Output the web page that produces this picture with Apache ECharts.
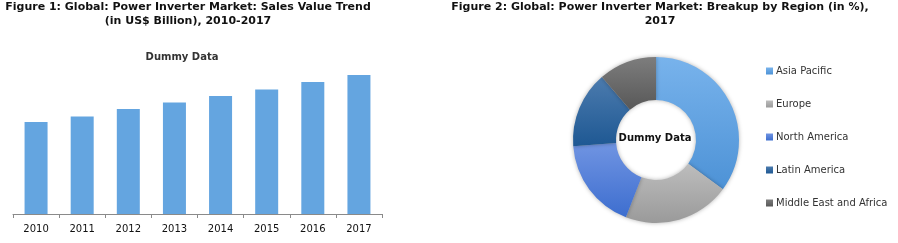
<!DOCTYPE html>
<html>
<head>
<meta charset="utf-8">
<script src="https://cdn.jsdelivr.net/npm/echarts@6/dist/echarts.min.js"></script>
<style>html,body{margin:0;padding:0;background:#fff}#c{width:898px;height:243px}</style>
</head>
<body>
<div id="c"></div>
<script>
const years = ['2010','2011','2012','2013','2014','2015','2016','2017'];
const salesValues = [6.61, 7.02, 7.55, 8.02, 8.49, 8.96, 9.50, 10.0];
const regions = ['Asia Pacific','Europe','North America','Latin America','Middle East and Africa'];
const regionShares = [35.1, 20.8, 17.9, 14.9, 11.3];
const regionColors = [
  ['#78B3EC','#4D92D6'],
  ['#BDBDBD','#9A9A9A'],
  ['#7094E2','#3D6ECF'],
  ['#4C7BAE','#1E5893'],
  ['#7D7D7D','#585858']
];

const FONT = 'DejaVu Sans';
const chart = echarts.init(document.getElementById('c'), null, {renderer:'canvas'});

function grad(c){
  return new echarts.graphic.LinearGradient(0,0,0,1,[{offset:0,color:c[0]},{offset:1,color:c[1]}]);
}

chart.setOption({
  animation:false,
  title:[
    {text:'Figure 1: Global: Power Inverter Market: Sales Value Trend\n(in US$ Billion), 2010-2017',
     left:188, top:0, textAlign:'center', padding:0,
     textStyle:{fontFamily:FONT, fontWeight:'bold', fontSize:11, lineHeight:14, color:'#111'}},
    {text:'Figure 2: Global: Power Inverter Market: Breakup by Region (in %),\n2017',
     left:660, top:0, textAlign:'center', padding:0,
     textStyle:{fontFamily:FONT, fontWeight:'bold', fontSize:11, lineHeight:14, color:'#111'}},
    {text:'Dummy Data', left:182, top:51, textAlign:'center', padding:0,
     textStyle:{fontFamily:FONT, fontWeight:'bold', fontSize:10, lineHeight:12, color:'#333'}},
    {text:'Dummy Data', left:655, top:132, textAlign:'center', padding:0,
     textStyle:{fontFamily:FONT, fontWeight:'bold', fontSize:10, lineHeight:12, color:'#111'}}
  ],
  legend:{
    orient:'vertical', left:766, top:65, padding:0, itemWidth:7, itemHeight:7, itemGap:21, icon:'rect',
    data:regions,
    textStyle:{fontFamily:FONT, fontSize:10, lineHeight:12, color:'#333', padding:[0,0,0,-2]}
  },
  grid:{left:13, right:516, top:75, bottom:29},
  xAxis:{
    type:'category', data:years,
    axisLine:{lineStyle:{color:'#8a8a8a', width:1}},
    axisTick:{show:true, length:4, lineStyle:{color:'#8a8a8a'}},
    axisLabel:{fontFamily:FONT, fontSize:10, color:'#111', margin:10}
  },
  yAxis:{type:'value', min:0, max:10, show:false, splitLine:{show:false}},
  series:[
    {type:'bar', data:salesValues, barWidth:23,
     itemStyle:{color:'#64A5E0'}},
    {type:'pie', center:[656,140], radius:[40,83], startAngle:90, clockwise:true,
     label:{show:false}, labelLine:{show:false}, silent:true,
     itemStyle:{shadowBlur:4, shadowColor:'rgba(0,0,0,0.3)'},
     data:regions.map((r,i)=>({name:r, value:regionShares[i], itemStyle:{color:grad(regionColors[i])}}))}
  ]
});
</script>
</body>
</html>
